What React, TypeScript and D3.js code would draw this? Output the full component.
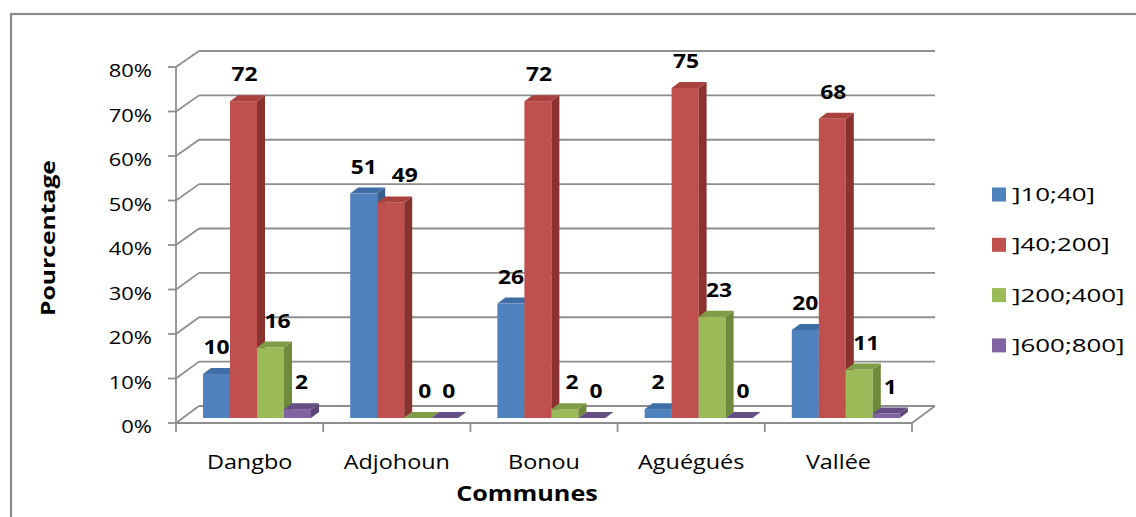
import React from "react";
import * as d3 from "d3";

const categories = ["Dangbo", "Adjohoun", "Bonou", "Aguégués", "Vallée"];
const seriesNames = ["]10;40]", "]40;200]", "]200;400]", "]600;800]"];
const s10_40 = [10, 51, 26, 2, 20];
const s40_200 = [72, 49, 72, 75, 68];
const s200_400 = [16, 0, 2, 23, 11];
const s600_800 = [2, 0, 0, 0, 1];
const yTicks = [0, 10, 20, 30, 40, 50, 60, 70, 80];

const seriesValues = [s10_40, s40_200, s200_400, s600_800];
const colors = [
  { front: "#4F81BD", side: "#385D8A", top: "#3F6EA6" },
  { front: "#C0504D", side: "#8A3230", top: "#A9423F" },
  { front: "#9BBB59", side: "#6E8A3C", top: "#7F9C46" },
  { front: "#8064A2", side: "#5C4776", top: "#654F85" },
];
const labelShift = [0, 1, 7, 4];

const FONT = "'Open Sans', 'Noto Sans', sans-serif";
const GRID = "#8e8e8e";

function T({ x, y, s = 1.2, size, bold, anchor = "middle", rotate = 0, children, fill = "#000" }: any) {
  return (
    <text
      transform={`translate(${x},${y}) rotate(${rotate}) scale(${s},1)`}
      fontFamily={FONT}
      fontSize={size}
      fontWeight={bold ? 700 : 400}
      textAnchor={anchor}
      fill={fill}
    >
      {children}
    </text>
  );
}

export default function App() {
  const W = 1136, H = 517;
  const x = d3.scaleBand<string>().domain(categories).range([176, 912]).padding(0);
  const inner = d3.scaleBand<number>().domain([0, 1, 2, 3]).range([20, 128]).padding(0);
  const yFront = d3.scaleLinear().domain([0, 80]).range([423, 67]);
  const yBack = d3.scaleLinear().domain([0, 80]).range([406, 51]);
  const yBar = d3.scaleLinear().domain([0, 80]).range([418, 66]);
  const DX = 23, DY = -17; // wall depth
  const BX = 7; // bar plane shift
  const dX = 8, dY = -6; // bar depth
  const bw = inner.bandwidth();
  const bottom = yBar(0);

  const bars: any[] = [];
  const labels: any[] = [];
  categories.forEach((c, ci) => {
    let prev: { x: number; y: number; w: number } | null = null;
    seriesValues.forEach((vals, si) => {
      const v = vals[ci];
      const x0 = (x(c) as number) + BX + (inner(si) as number);
      const top = yBar(v);
      const col = colors[si];
      const x1 = x0 + bw;
      bars.push(
        <g key={`b${ci}-${si}`}>
          <rect x={x0} y={top} width={bw} height={bottom - top} fill={col.front} />
          <polygon
            points={`${x1},${top} ${x1 + dX},${top + dY} ${x1 + dX},${bottom + dY} ${x1},${bottom}`}
            fill={col.side}
          />
          <polygon
            points={`${x0},${top} ${x0 + dX},${top + dY} ${x1 + dX},${top + dY} ${x1},${top}`}
            fill={col.top}
          />
        </g>
      );
      const txt = String(v);
      const w = txt.length * 13.5;
      let lx = x0 + bw / 2 + labelShift[si];
      const ly = top - 20;
      if (prev && Math.abs(ly - prev.y) < 18 && lx - prev.x < (w + prev.w) / 2 + 4) {
        lx = prev.x + (w + prev.w) / 2 + 14;
      }
      prev = { x: lx, y: ly, w };
      labels.push(
        <T key={`l${ci}-${si}`} x={lx} y={ly} size={19} bold>
          {txt}
        </T>
      );
    });
  });

  const xTickPos = categories.map((c) => x(c) as number).concat([912]);

  return (
    <svg width={W} height={H} style={{ position: "absolute", left: 0, top: 0, background: "#fff" }}>
      <rect x={11} y={14} width={1300} height={700} fill="none" stroke="#8a8a8a" strokeWidth={2.2} />
      {yTicks.map((t) => (
        <g key={`g${t}`}>
          <line x1={176 + DX} x2={912 + DX} y1={yBack(t)} y2={yBack(t)} stroke={GRID} strokeWidth={1.8} />
          <line x1={176} y1={yFront(t)} x2={176 + DX} y2={yBack(t)} stroke={GRID} strokeWidth={1.8} />
          <line x1={168} x2={176} y1={yFront(t)} y2={yFront(t)} stroke={GRID} strokeWidth={1.8} />
          <T x={152} y={yFront(t) + 10} size={18} anchor="end" s={1.22}>
            {`${t}%`}
          </T>
        </g>
      ))}
      <line x1={176} x2={912} y1={yFront(0)} y2={yFront(0)} stroke={GRID} strokeWidth={1.8} />
      <line x1={912} y1={yFront(0)} x2={912 + DX} y2={yFront(0) + DY} stroke={GRID} strokeWidth={1.8} />
      <line x1={176} x2={176} y1={yFront(80)} y2={yFront(0)} stroke={GRID} strokeWidth={1.8} />
      {xTickPos.map((p, i) => (
        <line key={`xt${i}`} x1={p} x2={p} y1={yFront(0)} y2={yFront(0) + 9} stroke={GRID} strokeWidth={1.8} />
      ))}
      {bars}
      {labels}
      {categories.map((c) => (
        <T key={`c${c}`} x={(x(c) as number) + x.bandwidth() / 2} y={469} size={19.5}>
          {c}
        </T>
      ))}
      <T x={527} y={501} size={21} bold>
        Communes
      </T>
      <T x={55} y={238} size={19} bold rotate={-90} s={1.3}>
        Pourcentage
      </T>
      {seriesNames.map((n, i) => {
        const cy = 194.5 + i * 50.3;
        return (
          <g key={`lg${i}`}>
            <rect x={992} y={cy - 7} width={14} height={14} fill={colors[i].front} />
            <T x={1012} y={cy + 6.5} size={18.5} anchor="start" s={1.4}>
              {n}
            </T>
          </g>
        );
      })}
    </svg>
  );
}
